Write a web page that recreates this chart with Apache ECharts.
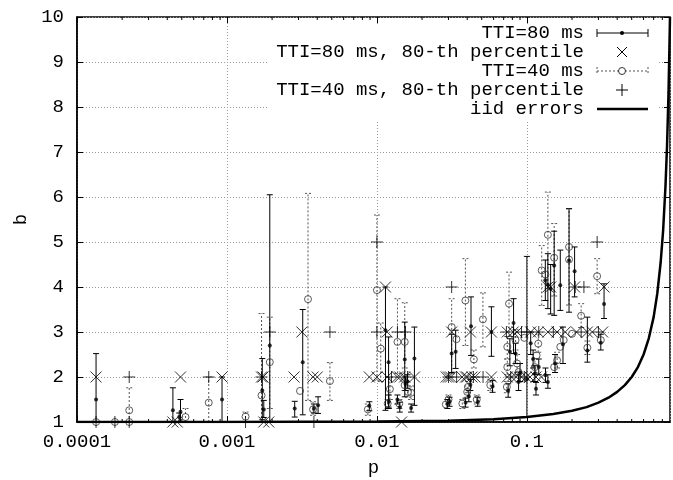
<!DOCTYPE html>
<html><head><meta charset="utf-8">
<script src="https://cdn.jsdelivr.net/npm/echarts@6/dist/echarts.min.js"></script>
<style>html,body{margin:0;padding:0;background:#fff}#c{width:673px;height:480px}</style>
</head><body><div id="c"></div><script>
// ---- tick labels ----
const xTickLabels = ['0.0001', '0.001', '0.01', '0.1'];
const xMinorTicks = [2e-4,3e-4,4e-4,5e-4,6e-4,7e-4,8e-4,9e-4,
  2e-3,3e-3,4e-3,5e-3,6e-3,7e-3,8e-3,9e-3,
  0.02,0.03,0.04,0.05,0.06,0.07,0.08,0.09,
  0.2,0.3,0.4,0.5,0.6,0.7,0.8];
const seriesNames = ['TTI=80 ms', 'TTI=80 ms, 80-th percentile', 'TTI=40 ms', 'TTI=40 ms, 80-th percentile', 'iid errors'];

// ---- TTI=80 ms: mean with error bar ----
const tti80P  = [1.34e-4,4.36e-4,4.9e-4,4.8e-4,9.27e-4,1.72e-3,1.76e-3,1.93e-3,2.83e-3,3.2e-3,3.8e-3,4.05e-3,8.9e-3,
  0.0114,0.01196,0.012,0.0137,0.0142,0.01533,0.0155,0.016,0.0169,0.01778,
  0.0295,0.0305,0.0315,0.0335,0.039,0.041,0.042,0.0424,0.047,0.058,0.059,
  0.077,0.0815,0.084,0.075,0.088,0.09,0.1,0.106,0.11,0.113,0.115,0.12,0.133,0.138,
  0.1327,0.138,0.144,0.152,0.167,0.191,0.208,0.327,0.174,0.253,0.311,0.154];
const tti80B  = [1.50,1.26,1.23,1.11,1.50,1.70,1.28,2.70,1.30,2.33,1.30,1.37,1.36,
  3.04,2.33,1.45,1.50,1.33,2.39,1.85,1.90,1.31,2.41,
  1.40,1.45,2.52,2.56,1.43,1.57,1.83,3.13,1.45,3.00,1.79,
  2.56,3.20,2.52,1.70,1.89,2.10,1.95,2.75,2.40,2.08,1.74,2.22,2.04,1.89,
  4.15,4.05,3.96,4.48,4.04,4.59,4.35,3.62,2.73,2.59,2.76,2.30];
const tti80Lo = [1.00,1.00,1.00,1.00,1.00,1.05,1.10,1.00,1.11,1.16,1.20,1.19,1.25,
  1.26,1.33,1.30,1.40,1.22,1.56,1.70,1.75,1.22,1.37,
  1.30,1.35,2.10,2.19,1.33,1.45,1.70,2.48,1.35,2.46,1.66,
  2.25,2.52,2.30,1.55,1.70,1.90,1.11,2.50,2.20,1.90,1.60,2.05,1.88,1.75,
  3.70,3.52,3.40,3.37,3.48,3.44,3.78,3.30,2.30,2.33,2.60,2.10];
const tti80Hi = [2.52,1.76,1.50,1.20,2.00,2.41,1.48,6.05,1.46,3.50,1.40,1.56,1.45,
  4.00,2.89,1.60,1.60,1.44,3.22,2.00,2.05,1.40,3.11,
  1.50,1.55,2.95,3.04,1.53,1.70,1.95,3.78,1.55,3.56,1.92,
  2.85,3.74,2.75,1.85,2.05,2.30,4.68,3.00,2.60,2.25,1.88,2.40,2.20,2.05,
  4.60,4.74,4.50,5.24,4.82,5.74,4.89,4.07,3.11,3.33,2.95,2.50];

// ---- TTI=80 ms, 80-th percentile ----
const pct80P = [1.34e-4,4.36e-4,4.66e-4,4.9e-4,9.27e-4,1.7e-3,1.74e-3,1.76e-3,1.9e-3,2.8e-3,3.16e-3,3.75e-3,4.0e-3,8.9e-3,
  0.01,0.0114,0.0117,0.0117,0.0137,0.0142,0.0146,0.0153,0.0178,0.029,0.030,0.031,0.0315,0.037,0.039,0.040,0.042,0.043,0.045,
  0.058,0.058,0.074,0.081,0.086,0.074,0.079,0.085,0.092,0.099,0.106,0.119,0.138,0.159,0.18,0.214,0.253,0.273,0.32,
  0.105,0.115,0.125,0.138,0.144,0.208,0.327];
const pct80B = [2,1,1,2,2,2,2,1,1,2,3,2,2,2,
  2,4,3,2,2,2,1,2,2,2,2,2,3,2,2,2,3,2,2,
  3,2,3,3,3,2,2,2,2,2,3,3,3,3,3,3,3,3,3,
  2,2,2,4,4,4,4];

// ---- TTI=40 ms: mean with error bar ----
const tti40P  = [1.34e-4,1.79e-4,2.23e-4,2.23e-4,5.29e-4,7.56e-4,1.33e-3,1.70e-3,1.93e-3,3.07e-3,3.47e-3,3.75e-3,4.86e-3,8.7e-3,
  0.01,0.0106,0.0122,0.0118,0.0137,0.0141,0.01533,0.0153,0.0161,0.0169,
  0.0288,0.030,0.0315,0.0339,0.0371,0.0389,0.040,0.0405,0.0443,0.0463,0.0509,0.057,
  0.076,0.074,0.074,0.0735,0.084,0.086,0.0961,0.088,0.119,0.116,0.113,0.152,0.159,0.167,0.176,
  0.1255,0.1327,0.138,0.152,0.191,0.191,0.294,0.23,0.253,0.311,0.20];
const tti40B  = [1.00,1.00,1.26,1.00,1.11,1.43,1.12,1.59,2.33,1.69,3.73,1.28,1.91,1.28,
  3.93,2.63,1.73,1.41,2.78,1.41,2.78,1.82,1.67,1.65,
  1.39,1.50,3.11,2.84,1.41,3.70,1.67,1.78,2.39,1.50,3.28,1.82,
  3.63,2.67,2.22,1.78,2.82,2.30,2.87,2.11,2.74,2.48,2.22,2.22,2.37,2.67,2.82,
  4.37,4.28,5.16,4.65,4.89,4.61,4.24,3.36,2.65,2.82,2.96];
const tti40Lo = [1.00,1.00,1.00,1.00,1.00,1.00,1.00,1.00,1.30,1.69,1.48,1.15,1.48,1.15,
  1.93,1.90,1.50,1.30,2.08,1.30,2.20,1.70,1.55,1.50,
  1.39,1.40,2.07,2.84,1.30,2.70,1.55,1.65,2.20,1.40,2.67,1.70,
  2.90,2.40,2.05,1.65,2.60,2.10,2.87,2.11,2.55,2.48,2.05,2.22,2.20,2.67,2.82,
  3.59,4.28,3.96,3.80,3.60,4.61,3.85,3.10,2.50,2.82,2.96];
const tti40Hi = [1.00,1.00,1.76,1.00,1.30,2.00,1.22,3.41,3.33,1.69,6.08,1.45,2.32,1.40,
  5.60,3.20,2.00,1.50,3.74,1.50,3.65,1.95,1.80,1.80,
  1.39,1.60,3.74,2.84,1.50,4.63,1.80,1.90,2.60,1.60,3.87,1.95,
  4.33,2.90,2.40,1.90,3.05,2.50,2.87,2.11,2.95,2.48,2.40,2.22,2.55,2.67,2.82,
  4.92,4.28,6.11,5.41,5.74,4.61,4.63,3.63,2.80,2.82,2.96];

// ---- TTI=40 ms, 80-th percentile ----
const pct40P = [1.34e-4,1.79e-4,2.23e-4,2.23e-4,7.56e-4,1.33e-3,1.70e-3,1.93e-3,3.8e-3,4.86e-3,
  0.01,0.01,0.0137,0.0155,0.0125,0.016,0.0315,0.030,0.034,0.044,0.051,
  0.073,0.092,0.078,0.096,0.10,0.21,0.24,0.294,0.12,0.15,0.23,0.30];
const pct40B = [1,1,2,1,2,1,2,3,1,3,
  5,3,3,3,2,2,4,2,2,2,2,
  3,3,2,2,3,4,4,5,3,3,3,3];

// ---- iid errors ----
const iidP = [0.0001,0.001,0.01,0.03,0.06,0.1,0.15,0.2,0.25,0.3,0.35,0.4,0.45,0.5,0.55,0.6,0.65,0.7,0.74,0.78,0.81,0.84,0.86,0.88,0.9];
const iidB = [1.0,1.0,1.01,1.03,1.06,1.11,1.18,1.25,1.33,1.43,1.54,1.67,1.82,2.0,2.22,2.5,2.86,3.33,3.85,4.55,5.26,6.25,7.14,8.33,10.0];

const FONT = "'Liberation Mono','DejaVu Sans Mono',monospace";
const zip2 = (a, b) => a.map((v, i) => [v, b[i]]);
const zip3 = (a, b, c) => a.map((v, i) => [v, b[i], c[i]]);

function errBar(dashed) {
  return function (params, api) {
    const p = api.value(0), lo = api.value(1), hi = api.value(2);
    const a = api.coord([p, lo]), b = api.coord([p, hi]);
    if (Math.abs(a[1] - b[1]) < 1) return null;
    const style = { stroke: dashed ? '#555' : '#000', lineWidth: 1, lineDash: dashed ? [2, 2] : null, fill: null };
    return { type: 'group', children: [
      { type: 'line', shape: { x1: a[0], y1: a[1], x2: b[0], y2: b[1] }, style: style },
      { type: 'line', shape: { x1: a[0] - 3, y1: a[1], x2: a[0] + 3, y2: a[1] }, style: style },
      { type: 'line', shape: { x1: b[0] - 3, y1: b[1], x2: b[0] + 3, y2: b[1] }, style: style }
    ]};
  };
}

function minorTick(params, api) {
  const p = api.value(0);
  const bot = api.coord([p, 1]), top = api.coord([p, 10]);
  const st = { stroke: '#000', lineWidth: 1 };
  return { type: 'group', children: [
    { type: 'line', shape: { x1: bot[0], y1: bot[1], x2: bot[0], y2: bot[1] - 3 }, style: st },
    { type: 'line', shape: { x1: top[0], y1: top[1], x2: top[0], y2: top[1] + 3 }, style: st }
  ]};
}

function xLabel(v) {
  const l = Math.log10(v), e = Math.round(l);
  if (Math.abs(l - e) > 0.01) return '';
  const i = e + 4;
  return (i >= 0 && i < xTickLabels.length) ? xTickLabels[i] : '';
}

const gridLine = { show: true, lineStyle: { color: '#999', type: [1, 2], width: 1 } };
const crossPath = 'path://M0,0L10,10M10,0L0,10';
const plusPath = 'path://M5,0L5,10M0,5L10,5';

// legend drawn as graphic
const LX = 584, SX0 = 597, SX1 = 648, SC = 622;
const LY = [33, 52, 71, 90, 109];
const legendEls = [
  { type: 'rect', shape: { x: 268, y: 24, width: 390, height: 96 }, style: { fill: '#fff' }, z: 1 }
];
seriesNames.forEach((n, i) => {
  legendEls.push({ type: 'text', z: 2, style: { text: n, x: LX, y: LY[i], font: '19px ' + FONT, fill: '#000',
    textAlign: 'right', textVerticalAlign: 'middle', align: 'right', verticalAlign: 'middle' } });
});
const solid = { stroke: '#000', lineWidth: 1 };
const dotted = { stroke: '#555', lineWidth: 1, lineDash: [2, 2] };
legendEls.push(
  { type: 'line', z: 2, shape: { x1: SX0, y1: LY[0], x2: SX1, y2: LY[0] }, style: solid },
  { type: 'line', z: 2, shape: { x1: SX0, y1: LY[0] - 4, x2: SX0, y2: LY[0] + 4 }, style: solid },
  { type: 'line', z: 2, shape: { x1: SX1, y1: LY[0] - 4, x2: SX1, y2: LY[0] + 4 }, style: solid },
  { type: 'circle', z: 2, shape: { cx: SC, cy: LY[0], r: 2 }, style: { fill: '#000' } },
  { type: 'line', z: 2, shape: { x1: SC - 5, y1: LY[1] - 5, x2: SC + 5, y2: LY[1] + 5 }, style: solid },
  { type: 'line', z: 2, shape: { x1: SC - 5, y1: LY[1] + 5, x2: SC + 5, y2: LY[1] - 5 }, style: solid },
  { type: 'line', z: 2, shape: { x1: SX0, y1: LY[2], x2: SX1, y2: LY[2] }, style: dotted },
  { type: 'line', z: 2, shape: { x1: SX0, y1: LY[2] - 4, x2: SX0, y2: LY[2] + 4 }, style: dotted },
  { type: 'line', z: 2, shape: { x1: SX1, y1: LY[2] - 4, x2: SX1, y2: LY[2] + 4 }, style: dotted },
  { type: 'circle', z: 2, shape: { cx: SC, cy: LY[2], r: 3.5 }, style: { fill: '#fff', stroke: '#333', lineWidth: 1 } },
  { type: 'line', z: 2, shape: { x1: SC - 6, y1: LY[3], x2: SC + 6, y2: LY[3] }, style: solid },
  { type: 'line', z: 2, shape: { x1: SC, y1: LY[3] - 6, x2: SC, y2: LY[3] + 6 }, style: solid },
  { type: 'line', z: 2, shape: { x1: SX0, y1: LY[4], x2: SX1, y2: LY[4] }, style: { stroke: '#000', lineWidth: 2.5 } }
);

const chart = echarts.init(document.getElementById('c'), null, { renderer: 'canvas' });
chart.setOption({
  animation: false,
  backgroundColor: '#fff',
  textStyle: { fontFamily: FONT },
  grid: { left: 77, right: 3, top: 17, bottom: 58, show: true, borderColor: '#000', borderWidth: 1.5,
    backgroundColor: 'transparent', containLabel: false, outerBoundsMode: 'none' },
  xAxis: [{
    type: 'log', logBase: 10, min: 0.0001, max: 0.9, position: 'bottom',
    name: 'p', nameLocation: 'middle', nameGap: 36,
    nameTextStyle: { fontFamily: FONT, fontSize: 19, color: '#000' },
    axisLine: { show: true, lineStyle: { color: '#000', width: 1.5 } },
    axisTick: { show: true, inside: true, length: 6, lineStyle: { color: '#000' } },
    axisLabel: { formatter: xLabel, fontFamily: FONT, fontSize: 19, color: '#000', margin: 10, showMaxLabel: false },
    splitLine: gridLine, minorTick: { show: false }
  }, {
    type: 'log', logBase: 10, min: 0.0001, max: 0.9, position: 'top',
    axisLine: { show: false }, axisLabel: { show: false }, splitLine: { show: false },
    axisTick: { show: true, inside: true, length: 6, lineStyle: { color: '#000' } }
  }],
  yAxis: [{
    type: 'value', min: 1, max: 10, interval: 1, position: 'left',
    name: 'b', nameLocation: 'middle', nameGap: 45,
    nameTextStyle: { fontFamily: FONT, fontSize: 19, color: '#000' },
    axisLine: { show: true, lineStyle: { color: '#000', width: 1.5 } },
    axisTick: { show: true, inside: true, length: 6, lineStyle: { color: '#000' } },
    axisLabel: { fontFamily: FONT, fontSize: 19, color: '#000', margin: 13 },
    splitLine: gridLine
  }, {
    type: 'value', min: 1, max: 10, interval: 1, position: 'right',
    axisLine: { show: false }, axisLabel: { show: false }, splitLine: { show: false },
    axisTick: { show: true, inside: true, length: 6, lineStyle: { color: '#000' } }
  }],
  graphic: { elements: legendEls },
  series: [
    { type: 'custom', name: 'minor', renderItem: minorTick, data: xMinorTicks.map(v => [v]), encode: { x: 0 }, z: 3, silent: true, clip: false },
    { type: 'custom', name: seriesNames[2] + ' bars', renderItem: errBar(true), data: zip3(tti40P, tti40Lo, tti40Hi), encode: { x: 0, y: [1, 2] }, z: 3, clip: false },
    { type: 'custom', name: seriesNames[0] + ' bars', renderItem: errBar(false), data: zip3(tti80P, tti80Lo, tti80Hi), encode: { x: 0, y: [1, 2] }, z: 4, clip: false },
    { type: 'scatter', name: seriesNames[2], data: zip2(tti40P, tti40B), symbol: 'circle', symbolSize: 7,
      itemStyle: { color: 'rgba(255,255,255,0)', borderColor: '#333', borderWidth: 1 }, z: 5, clip: false },
    { type: 'scatter', name: seriesNames[0], data: zip2(tti80P, tti80B), symbol: 'circle', symbolSize: 4,
      itemStyle: { color: '#000' }, z: 6, clip: false },
    { type: 'scatter', name: seriesNames[1], data: zip2(pct80P, pct80B), symbol: crossPath, symbolSize: 11,
      itemStyle: { color: 'none', borderColor: '#000', borderWidth: 1 }, z: 6, clip: false },
    { type: 'scatter', name: seriesNames[3], data: zip2(pct40P, pct40B), symbol: plusPath, symbolSize: 12,
      itemStyle: { color: 'none', borderColor: '#000', borderWidth: 1 }, z: 6, clip: false },
    { type: 'line', name: seriesNames[4], data: zip2(iidP, iidB), symbol: 'none', smooth: false,
      lineStyle: { color: '#000', width: 2.5 }, z: 7 }
  ]
});
</script></body></html>
